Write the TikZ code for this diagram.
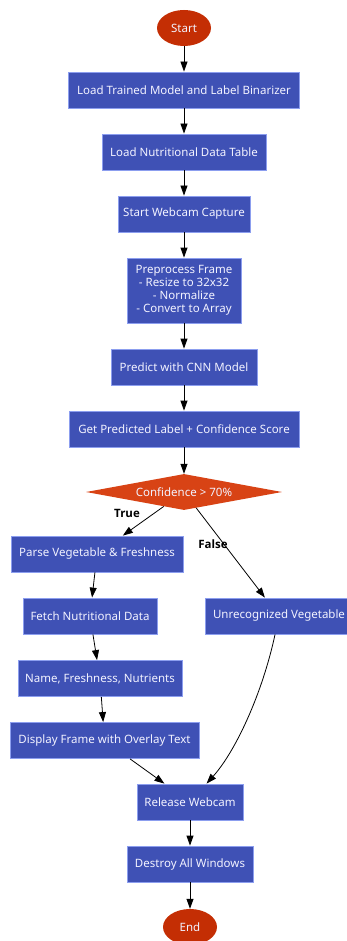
\documentclass[tikz,border=0pt]{standalone}
\usepackage{fontspec}
\setmainfont{Noto Sans}
\newfontfamily\lblfont{Open Sans}
\usetikzlibrary{shapes.geometric,arrows.meta}
\definecolor{boxfill}{HTML}{3F51B5}
\definecolor{boxline}{HTML}{8C9EEF}
\definecolor{termfill}{HTML}{C42E04}
\definecolor{decfill}{HTML}{D84315}
\definecolor{txt}{HTML}{F2F2FF}
\begin{document}
\begin{tikzpicture}[x=1pt,y=-1pt,
  stepbox/.style={draw=boxline,line width=0.8pt,fill=boxfill,text=txt,minimum height=36pt,inner xsep=4pt,inner ysep=4pt,font=\fontsize{11.5}{13.5}\selectfont,align=center},
  term/.style={ellipse,fill=termfill,text=txt,minimum width=54pt,minimum height=36pt,inner sep=0pt,font=\fontsize{11.5}{13.5}\selectfont},
  decision/.style={diamond,fill=decfill,text=txt,minimum width=196pt,minimum height=36pt,aspect=5.4,inner sep=0pt,font=\fontsize{11.5}{13.5}\selectfont},
  conn/.style={line width=0.8pt,-{Triangle[length=10pt,width=7pt]}},
  lbl/.style={font=\lblfont\bfseries\fontsize{11.5}{13}\selectfont,inner sep=0pt}]
\useasboundingbox (0,0) rectangle (347,941);
\clip (0,0) rectangle (347,941);
\node[term] (start) at (184,28) {Start};
\node[stepbox,minimum width=231pt] (b1) at (184,90) {Load Trained Model and Label Binarizer};
\node[stepbox,minimum width=164pt] (b2) at (184,152) {Load Nutritional Data Table};
\node[stepbox,minimum width=132pt] (b3) at (184,214) {Start Webcam Capture};
\node[stepbox,minimum width=114pt,minimum height=65pt,font=\fontsize{11.5}{13}\selectfont] (b4) at (184,290.5) {Preprocess Frame\\- Resize to 32x32\\- Normalize\\- Convert to Array};
\node[stepbox,minimum width=146pt] (b5) at (184,367) {Predict with CNN Model};
\node[stepbox,minimum width=230pt] (b6) at (184,429) {Get Predicted Label + Confidence Score};
\node[decision] (dec) at (184,492) {Confidence > 70\%};
\node[stepbox,minimum width=172pt] (parse) at (97,554) {Parse Vegetable \& Freshness};
\node[stepbox,minimum width=134pt] (fetch) at (90,616) {Fetch Nutritional Data};
\node[stepbox,minimum width=148pt] (unrec) at (279,616) {Unrecognized Vegetable};
\node[stepbox,minimum width=164pt] (name) at (100,678.5) {Name, Freshness, Nutrients};
\node[stepbox,minimum width=189pt] (disp) at (104.5,740.5) {Display Frame with Overlay Text};
\node[stepbox,minimum width=106pt] (rel) at (190,802) {Release Webcam};
\node[stepbox,minimum width=126pt] (destroy) at (190,864) {Destroy All Windows};
\node[term] (end) at (190,927) {End};
\node[lbl] (ltrue) at (127,513) {True};
\node[lbl] (lfalse) at (213,544) {False};
\draw[conn] (start) -- (b1);
\draw[conn] (b1) -- (b2);
\draw[conn] (b2) -- (b3);
\draw[conn] (b3) -- (b4);
\draw[conn] (b4) -- (b5);
\draw[conn] (b5) -- (b6);
\draw[conn] (b6) -- (dec);
\draw[conn] (dec) -- (parse);
\draw[conn] (dec) -- (unrec);
\draw[conn] (parse) -- (fetch);
\draw[conn] (fetch) -- (name);
\draw[conn] (name) -- (disp);
\draw[conn] (disp) -- (rel);
\draw[conn] (unrec) .. controls (262,695) and (235,752) .. (rel);
\draw[conn] (rel) -- (destroy);
\draw[conn] (destroy) -- (end);
\end{tikzpicture}
\end{document}
